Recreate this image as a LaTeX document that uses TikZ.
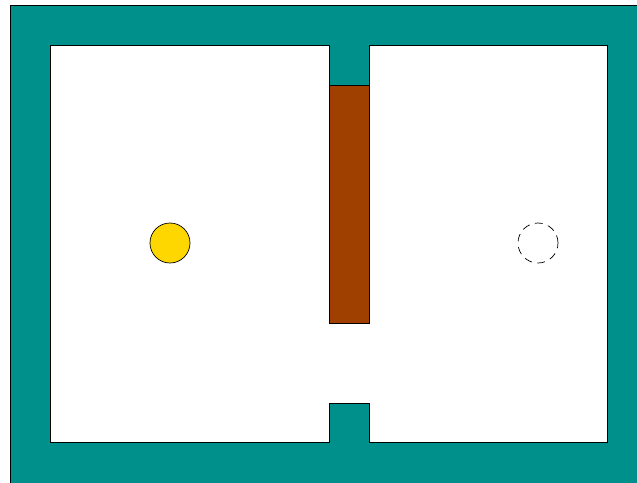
\documentclass[tikz,border=0pt]{standalone}
\usepackage{xcolor}
\usepackage{tikz}
\usetikzlibrary{positioning}
\definecolor{wallteal}{RGB}{0, 144, 140}
\definecolor{doorbrown}{RGB}{160, 64, 0}
\definecolor{ballgold}{RGB}{255, 215, 0}

\begin{document}
\begin{tikzpicture}[
    x=0.025cm, y=-0.025cm,
    wall/.style={fill=wallteal, draw=black, line width=0.5pt},
    room/.style={fill=white, draw=black, line width=0.5pt},
    door/.style={fill=doorbrown, draw=black, line width=0.5pt},
    ball/.style={circle, minimum size=1cm, inner sep=0pt, line width=0.5pt}
]
    \useasboundingbox (0, 0) rectangle (637, 482);
    \clip (0, 0) rectangle (637, 482);

    % Outer walls
    \draw[wall] (10, 5) rectangle (660, 500);

    % Two rooms joined by the doorway
    \draw[room] (50, 45) -- (329, 45) -- (329, 85) -- (369, 85) -- (369, 45)
        -- (607, 45) -- (607, 442) -- (369, 442) -- (369, 403) -- (329, 403)
        -- (329, 442) -- (50, 442) -- cycle;

    % Sliding door
    \draw[door] (329, 85) rectangle (369, 323);

    % Ball and its target
    \node[ball, fill=ballgold, draw=black] (ball) at (170, 243) {};
    \node[ball, draw=black, dash pattern=on 5.5pt off 4pt] (target) at (538, 243) {};

\end{tikzpicture}
\end{document}
